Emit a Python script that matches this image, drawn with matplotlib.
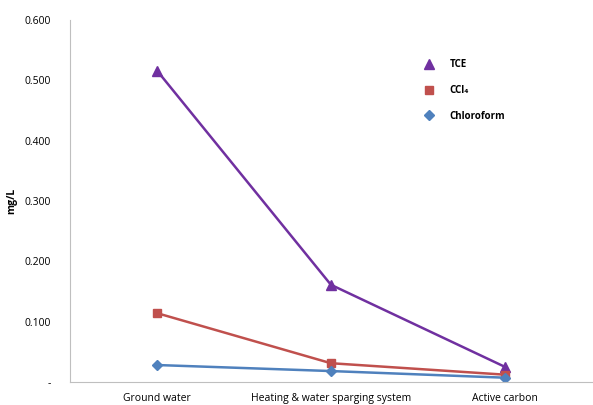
import matplotlib.pyplot as plt
from matplotlib.ticker import FuncFormatter

plt.rcParams['font.family'] = ['Open Sans', 'DejaVu Sans']

# datos
etapas = ['Ground water', 'Heating & water sparging system', 'Active carbon']
tce = [0.516, 0.161, 0.025]
ccl4 = [0.114, 0.031, 0.012]
cloroformo = [0.028, 0.018, 0.007]
yticks = [0.0, 0.1, 0.2, 0.3, 0.4, 0.5, 0.6]

fig = plt.figure(figsize=(5.93, 4.05), dpi=100)
ax = fig.add_axes([0.118, 0.057, 0.88, 0.894])

x = range(len(etapas))
ax.plot(x, tce, color='#7030A0', lw=1.8, marker='^', ms=7, label='TCE')
ax.plot(x, ccl4, color='#C0504D', lw=1.8, marker='s', ms=6, label='CCl₄')
ax.plot(x, cloroformo, color='#4F81BD', lw=1.8, marker='D', ms=5, label='Chloroform')

ax.set_xlim(-0.5, 2.5)
ax.set_ylim(0, 0.6)
ax.set_xticks(list(x))
ax.set_xticklabels(etapas, fontsize=7.5)
ax.set_yticks(yticks)
ax.yaxis.set_major_formatter(FuncFormatter(lambda v, p: '-' if v == 0 else f'{v:.3f}'))
ax.tick_params(axis='x', length=0, labelsize=7.5, pad=8)
ax.tick_params(axis='y', length=0, labelsize=7.5, pad=14)
ax.set_ylabel('mg/L', fontsize=7.5, fontweight='bold', labelpad=5)

for s in ['top', 'right']:
    ax.spines[s].set_visible(False)
for s in ['left', 'bottom']:
    ax.spines[s].set_color('#BFBFBF')

# leyenda solo con marcadores
handles, labels = ax.get_legend_handles_labels()
leg = ax.legend(handles, labels, loc='upper left', bbox_to_anchor=(0.662, 0.915),
                frameon=False, prop={'weight': 'bold', 'size': 7},
                handlelength=1.0, handletextpad=1.6, labelspacing=1.5)
for h in leg.legend_handles:
    h.set_linestyle('None')

fig.savefig('out.png', dpi=100)
